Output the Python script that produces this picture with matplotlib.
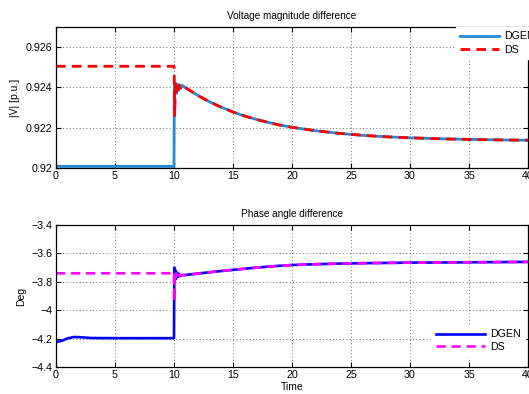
import matplotlib
matplotlib.use("Agg")
import matplotlib.pyplot as plt

plt.rcParams['font.family'] = ['Liberation Sans', 'DejaVu Sans']

# ---------------- data ----------------
t_v_dgen = [0, 10.0, 10.03, 10.08, 10.15, 10.22, 10.3, 10.38, 10.46, 10.55, 10.7,
            11, 12, 13, 14, 15, 16, 17, 18, 19, 20, 22, 24, 26, 28, 30, 32, 34, 36, 38, 40]
v_dgen = [0.92008, 0.92008, 0.92410, 0.92375, 0.92420, 0.92370, 0.92415, 0.92385, 0.92412, 0.92395, 0.92410,
          0.92398, 0.92361, 0.92329, 0.92302, 0.92278, 0.92258, 0.92241, 0.92226, 0.92213, 0.92202,
          0.92185, 0.92172, 0.92162, 0.92155, 0.92150, 0.92146, 0.92143, 0.92141, 0.92139, 0.92138]

t_v_ds = [0, 10.0, 10.02, 10.06, 10.12, 10.2, 10.28, 10.36, 10.45, 10.55, 10.7,
          11, 12, 13, 14, 15, 16, 17, 18, 19, 20, 22, 24, 26, 28, 30, 32, 34, 36, 38, 40]
v_ds = [0.92505, 0.92505, 0.92475, 0.92260, 0.92425, 0.92380, 0.92418, 0.92390, 0.92412, 0.92398, 0.92410,
        0.92398, 0.92361, 0.92329, 0.92302, 0.92278, 0.92258, 0.92241, 0.92226, 0.92213, 0.92202,
        0.92185, 0.92172, 0.92162, 0.92155, 0.92150, 0.92146, 0.92143, 0.92141, 0.92139, 0.92138]

t_a_dgen = [0, 0.5, 1.0, 1.5, 2.0, 3.0, 5, 8, 10.0, 10.03, 10.08, 10.13, 10.2, 10.28, 10.36, 10.45, 10.55, 10.7,
            11, 12, 13, 14, 15, 16, 17, 18, 19, 20, 22, 24, 26, 28, 30, 33, 36, 40]
a_dgen = [-4.224, -4.215, -4.198, -4.189, -4.190, -4.196, -4.197, -4.197, -4.197, -3.70, -3.79, -3.72, -3.775,
          -3.735, -3.765, -3.745, -3.760, -3.752,
          -3.752, -3.742, -3.733, -3.724, -3.716, -3.708, -3.700, -3.693, -3.687, -3.682,
          -3.676, -3.672, -3.669, -3.667, -3.665, -3.664, -3.662, -3.660]

t_a_ds = [0, 10.0, 10.02, 10.06, 10.12, 10.2, 10.28, 10.36, 10.45, 10.55, 10.7,
          11, 12, 13, 14, 15, 16, 17, 18, 19, 20, 22, 24, 26, 28, 30, 33, 36, 40]
a_ds = [-3.740, -3.740, -3.94, -3.72, -3.77, -3.74, -3.765, -3.748, -3.758, -3.752, -3.754,
        -3.752, -3.742, -3.733, -3.724, -3.716, -3.708, -3.700, -3.693, -3.687, -3.682,
        -3.676, -3.672, -3.669, -3.667, -3.665, -3.664, -3.662, -3.660]

x_ticks = [0, 5, 10, 15, 20, 25, 30, 35, 40]
v_ticks = [0.92, 0.922, 0.924, 0.926]
v_ticklabels = ['0.92', '0.922', '0.924', '0.926']
a_ticks = [-4.4, -4.2, -4.0, -3.8, -3.6, -3.4]
a_ticklabels = ['\u22124.4', '\u22124.2', '\u22124', '\u22123.8', '\u22123.6', '\u22123.4']

# ---------------- figure ----------------
W, H = 529, 394
fig = plt.figure(figsize=(W / 100, H / 100), dpi=100)

def px_axes(x0, y0, x1, y1):
    return fig.add_axes([x0 / W, 1 - y1 / H, (x1 - x0) / W, (y1 - y0) / H])

ax1 = px_axes(56, 27, 528, 168)
ax2 = px_axes(56, 225, 528, 367)

def style(ax):
    ax.set_xlim(0, 40)
    ax.set_xticks(x_ticks)
    ax.grid(True, linestyle=(0, (1, 3)), color='#404040', linewidth=0.6)
    ax.tick_params(direction='in', top=True, right=True, length=3.5, width=0.8,
                   labelsize=7.7, pad=2.5, colors='black')
    for s in ax.spines.values():
        s.set_linewidth(0.9)
        s.set_color('black')

style(ax1)
ax1.plot(t_v_dgen, v_dgen, color='#1f8bd4', lw=2.0, label='DGEN')
ax1.plot(t_v_ds, v_ds, color='#ff0000', lw=2.0, dashes=(3.5, 2.2), label='DS')
ax1.set_ylim(0.92, 0.927)
ax1.set_yticks(v_ticks)
ax1.set_yticklabels(v_ticklabels)
ax1.set_ylabel('|V| [p.u.]', fontsize=7.5, labelpad=4)
ax1.set_title('Voltage magnitude difference', fontsize=7.2, pad=6)
leg1 = ax1.legend(loc='upper left', bbox_to_anchor=(0.847, 1.0), borderaxespad=0,
                  fontsize=7.7, handlelength=3.6, handletextpad=0.5, labelspacing=0.35,
                  borderpad=0.4, frameon=True, fancybox=False, framealpha=1,
                  edgecolor='white')

style(ax2)
ax2.plot(t_a_dgen, a_dgen, color='#0000ff', lw=1.9, label='DGEN')
ax2.plot(t_a_ds, a_ds, color='#ff00ff', lw=1.9, dashes=(3.5, 2.2), label='DS')
ax2.set_ylim(-4.4, -3.4)
ax2.set_yticks(a_ticks)
ax2.set_yticklabels(a_ticklabels)
ax2.set_ylabel('Deg', fontsize=7.5, labelpad=4)
ax2.set_xlabel('Time', fontsize=7.5, labelpad=1)
ax2.set_title('Phase angle difference', fontsize=7.2, pad=6)
leg2 = ax2.legend(loc='upper left', bbox_to_anchor=(0.797, 0.295), borderaxespad=0,
                  fontsize=7.7, handlelength=4.5, handletextpad=0.55, labelspacing=0.25,
                  borderpad=0.4, frameon=True, fancybox=False, framealpha=1,
                  edgecolor='white')

fig.savefig('out.png', dpi=100)
